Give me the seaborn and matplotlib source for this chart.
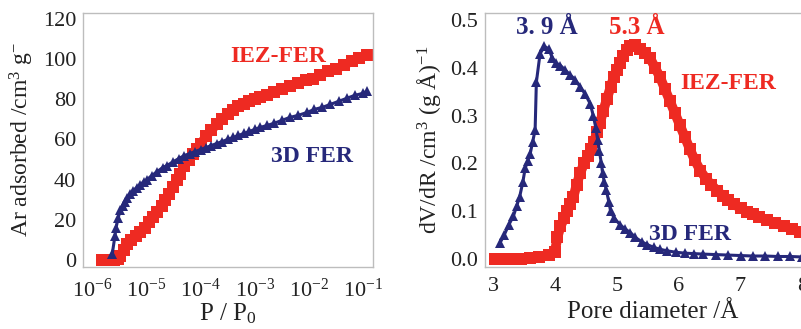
import matplotlib
matplotlib.use("Agg")
import matplotlib.pyplot as plt
import numpy as np
import pandas as pd
import seaborn as sns
from matplotlib.ticker import AutoMinorLocator, FixedLocator, FuncFormatter, NullLocator

# Ar 吸着等温線 (log10 P/P0, cm3/g)
iez_logp = [-5.82, -5.75, -5.68, -5.6, -5.53, -5.48, -5.42, -5.35, -5.28, -5.2,
            -5.11, -5.03, -4.95, -4.87, -4.8, -4.72, -4.65, -4.58, -4.51, -4.44,
            -4.38, -4.3, -4.22, -4.14, -4.06, -4.0, -3.9, -3.8, -3.7, -3.6,
            -3.5, -3.4, -3.3, -3.2, -3.1, -3.0, -2.9, -2.77, -2.65, -2.5,
            -2.35, -2.2, -2.05, -1.92, -1.8, -1.65, -1.5, -1.35, -1.2, -1.07, -0.93]
iez_ads = [0, 0, 0, 0, 0.5, 2, 5, 8, 10, 12,
           14, 16, 19, 21.5, 24, 27, 30, 33, 36.5, 40,
           43, 47, 50, 53, 55.5, 58, 61.5, 64.5, 67.5, 70,
           72.5, 74.5, 76.5, 77.5, 79, 80, 81, 82, 83.5, 85,
           86.5, 88, 89.5, 90, 92, 94, 95, 97, 99, 100.5, 102]
fer_logp = [-5.63, -5.58, -5.56, -5.52, -5.48, -5.44, -5.4, -5.35, -5.3, -5.25,
            -5.18, -5.11, -5.05, -4.99, -4.9, -4.8, -4.7, -4.62, -4.5, -4.4,
            -4.3, -4.2, -4.1, -4.0, -3.9, -3.8, -3.7, -3.6, -3.5, -3.4,
            -3.3, -3.2, -3.1, -3.0, -2.9, -2.77, -2.65, -2.5, -2.35, -2.2,
            -2.03, -1.9, -1.75, -1.6, -1.45, -1.3, -1.15, -1.0, -0.93]
fer_ads = [3, 12, 16, 21, 25, 27, 29, 31, 33, 34.5,
           36, 37.5, 39, 40, 42, 44, 46, 47, 49, 50.5,
           52, 53, 54, 55, 56, 57, 58, 59, 60, 61,
           62, 63, 64, 65, 66, 67, 68, 69.5, 71, 72,
           73.5, 75, 76, 77.5, 79, 80.5, 82, 83, 84]

# 細孔径分布 (Å, dV/dR)
iez_d = [3.03, 3.15, 3.3, 3.45, 3.6, 3.75, 3.9, 4.0, 4.04, 4.09,
         4.15, 4.2, 4.25, 4.3, 4.35, 4.41, 4.47, 4.53, 4.58, 4.63,
         4.68, 4.73, 4.78, 4.84, 4.9, 4.95, 5.0, 5.05, 5.1, 5.16,
         5.22, 5.3, 5.38, 5.46, 5.54, 5.62, 5.7, 5.78, 5.86, 5.94,
         6.02, 6.1, 6.18, 6.26, 6.35, 6.44, 6.53, 6.62, 6.71, 6.8,
         6.89, 7.0, 7.1, 7.2, 7.3, 7.43, 7.56, 7.7, 7.83, 7.96, 8.1]
iez_psd = [0.0, 0.0, 0.0, 0.0, 0.002, 0.004, 0.008, 0.015, 0.045, 0.068,
           0.085, 0.1, 0.115, 0.13, 0.155, 0.18, 0.2, 0.215, 0.23, 0.245,
           0.265, 0.285, 0.31, 0.335, 0.36, 0.38, 0.395, 0.41, 0.425, 0.437,
           0.445, 0.447, 0.44, 0.432, 0.42, 0.4, 0.38, 0.355, 0.33, 0.305,
           0.28, 0.255, 0.23, 0.207, 0.185, 0.168, 0.155, 0.143, 0.132, 0.123,
           0.115, 0.106, 0.099, 0.093, 0.087, 0.081, 0.075, 0.069, 0.062, 0.056, 0.052]
fer_d = [3.11, 3.18, 3.25, 3.33, 3.38, 3.43, 3.48, 3.52, 3.56, 3.6,
         3.64, 3.68, 3.7, 3.76, 3.83, 3.9, 3.96, 4.02, 4.09, 4.17,
         4.25, 4.33, 4.41, 4.49, 4.57, 4.62, 4.66, 4.69, 4.72, 4.75,
         4.77, 4.8, 4.83, 4.87, 4.9, 4.96, 5.05, 5.13, 5.22, 5.3,
         5.4, 5.49, 5.6, 5.7, 5.81, 5.95, 6.1, 6.25, 6.4, 6.6,
         6.8, 7.0, 7.2, 7.4, 7.6, 7.8, 8.0]
fer_psd = [0.033, 0.05, 0.07, 0.09, 0.11, 0.13, 0.16, 0.19, 0.205, 0.22,
           0.245, 0.27, 0.37, 0.43, 0.445, 0.44, 0.42, 0.41, 0.405, 0.395,
           0.385, 0.375, 0.36, 0.345, 0.325, 0.3, 0.275, 0.25, 0.225, 0.2,
           0.18, 0.16, 0.145, 0.12, 0.1, 0.085, 0.072, 0.063, 0.055, 0.045,
           0.036, 0.03, 0.024, 0.02, 0.017, 0.014, 0.012, 0.011, 0.01, 0.009,
           0.008, 0.007, 0.006, 0.006, 0.005, 0.005, 0.004]

RED = "#ee2a22"
BLUE = "#26287a"
SPINE = "#bdbdbd"
TXT = "#222222"

sns.set_style("white")
plt.rcParams["font.family"] = ["Liberation Serif", "DejaVu Serif"]
plt.rcParams["mathtext.fontset"] = "custom"
plt.rcParams["mathtext.rm"] = "Liberation Serif"
plt.rcParams["mathtext.it"] = "Liberation Serif"
plt.rcParams["axes.unicode_minus"] = False

W, H = 801, 329
fig = plt.figure(figsize=(W / 100, H / 100), dpi=100)
ax1 = fig.add_axes([83 / W, 1 - 267 / H, 290 / W, 254 / H])
ax2 = fig.add_axes([485 / W, 1 - 267 / H, 336 / W, 254 / H])


def fig_text(x, y, s, color, size=17):
    # ピクセル座標 (左上原点) で注記を置く
    fig.text(x / W, 1 - y / H, s, color=color, fontsize=size,
             fontweight="bold", ha="center", va="center")


# ------- 左: 吸着等温線 -------
iez_iso = pd.DataFrame({"p": np.power(10.0, iez_logp), "ads": iez_ads})
fer_iso = pd.DataFrame({"p": np.power(10.0, fer_logp), "ads": fer_ads})
sns.lineplot(data=iez_iso, x="p", y="ads", ax=ax1, color=RED, marker="s",
             markersize=8, markeredgewidth=0, linewidth=6.5, sort=False)
sns.lineplot(data=fer_iso, x="p", y="ads", ax=ax1, color=BLUE, marker="^",
             markersize=7, markeredgewidth=0, linewidth=2.2, sort=False)
ax1.set_xscale("log")
ax1.set_xlim(10 ** -6.17, 10 ** -0.815)
ax1.set_ylim(-3.5, 123)
ax1.xaxis.set_major_locator(FixedLocator([10.0 ** k for k in range(-6, 0)]))
ax1.xaxis.set_minor_locator(NullLocator())
ax1.xaxis.set_major_formatter(FuncFormatter(
    lambda v, _: "10$^{%d}$" % int(round(np.log10(v)))))
ax1.set_yticks(range(0, 121, 20))
ax1.set_xlabel("P / P$_0$", fontsize=18, labelpad=0, color=TXT)
ax1.set_ylabel("Ar adsorbed /cm$^3$ g$^{-}$", fontsize=17, labelpad=5, color=TXT)
ax1.tick_params(axis="x", pad=8)

# ------- 右: 細孔径分布 -------
iez_pore = pd.DataFrame({"d": iez_d, "psd": iez_psd})
fer_pore = pd.DataFrame({"d": fer_d, "psd": fer_psd})
sns.lineplot(data=iez_pore, x="d", y="psd", ax=ax2, color=RED, marker="s",
             markersize=9, markeredgewidth=0, linewidth=7, sort=False)
sns.lineplot(data=fer_pore, x="d", y="psd", ax=ax2, color=BLUE, marker="^",
             markersize=7, markeredgewidth=0, linewidth=2.2, sort=False)
ax2.set_xlim(2.87, 8.3)
ax2.set_ylim(-0.017, 0.515)
ax2.set_xticks(range(3, 9))
ax2.xaxis.set_minor_locator(AutoMinorLocator(10))
ax2.set_yticks(np.arange(0, 0.51, 0.1))
ax2.yaxis.set_major_formatter(FuncFormatter(lambda v, _: f"{v:.1f}"))
ax2.set_xlabel("Pore diameter /Å", fontsize=18, labelpad=4, color=TXT)
ax2.set_ylabel("dV/dR /cm$^3$ (g Å)$^{-1}$", fontsize=17, labelpad=5, color=TXT)
ax2.tick_params(axis="x", pad=7)

for ax in (ax1, ax2):
    for s in ax.spines.values():
        s.set_color(SPINE)
        s.set_linewidth(1.0)
    ax.tick_params(axis="both", direction="in", length=6, color=SPINE,
                   labelsize=16, labelcolor=TXT)
    ax.tick_params(axis="x", which="minor", direction="in", length=3, color=SPINE)
    ax.tick_params(axis="y", pad=5)

fig_text(278, 57, "IEZ-FER", RED)
fig_text(312, 157, "3D FER", BLUE)
fig_text(547, 27, "3. 9 Å", BLUE, 18)
fig_text(637, 27, "5.3 Å", RED, 18)
fig_text(728, 83, "IEZ-FER", RED)
fig_text(690, 235, "3D FER", BLUE)

fig.savefig("out.png", dpi=100)
